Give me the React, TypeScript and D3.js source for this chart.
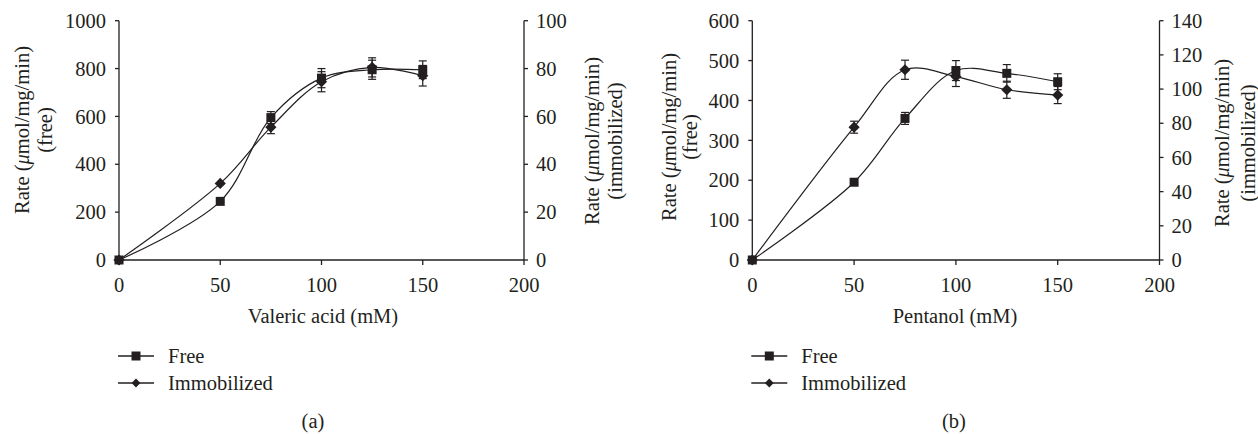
import React from 'react';
import * as d3 from 'd3';

// concentrations (mM)
const conc = [0, 50, 75, 100, 125, 150];
const xTicks = [0, 50, 100, 150, 200];

// panel (a) valeric acid
const freeA = [0, 245, 595, 760, 795, 795];
const freeErrA = [0, 0, 25, 40, 40, 37];
const immA = [0, 32, 55.5, 74.5, 80.5, 77];
const immErrA = [0, 0, 2.7, 4.2, 4, 4.3];
const leftTicksA = [0, 200, 400, 600, 800, 1000];
const rightTicksA = [0, 20, 40, 60, 80, 100];

// panel (b) pentanol
const freeB = [0, 195, 355, 475, 468, 447];
const freeErrB = [0, 0, 15, 25, 22, 20];
const immB = [0, 77.7, 111.3, 107.3, 99.6, 96.5];
const immErrB = [0, 3.5, 5.6, 5.8, 5, 5];
const leftTicksB = [0, 100, 200, 300, 400, 500, 600];
const rightTicksB = [0, 20, 40, 60, 80, 100, 120, 140];

const INK = '#231f20';
const FONT = '"Liberation Serif", "DejaVu Serif", serif';
const FS = 20.5;

interface PanelProps {
  x0: number;
  x1: number;
  xTitle: string;
  xTitleX: number;
  caption: string;
  captionX: number;
  free: number[];
  freeErr: number[];
  imm: number[];
  immErr: number[];
  leftTicks: number[];
  rightTicks: number[];
  leftTitleX: number;
  leftTitleY: number;
  leftGap: number;
  rightTitleX: number;
  rightTitleY: number;
  rightGap: number;
}

const Panel: React.FC<PanelProps> = (p) => {
  const yTop = 20.7;
  const yBot = 260;
  const x = d3.scaleLinear().domain([0, 200]).range([p.x0, p.x1]);
  const yL = d3.scaleLinear().domain([0, d3.max(p.leftTicks)!]).range([yBot, yTop]);
  const yR = d3.scaleLinear().domain([0, d3.max(p.rightTicks)!]).range([yBot, yTop]);

  const line = (ys: number[], y: d3.ScaleLinear<number, number>) =>
    d3
      .line<number>()
      .x((_, i) => x(conc[i]))
      .y((d) => y(d))
      .curve(d3.curveCatmullRom.alpha(0.5))(ys) || '';

  const errBars = (ys: number[], es: number[], y: d3.ScaleLinear<number, number>) =>
    ys.map((v, i) =>
      es[i] > 0 ? (
        <g key={i} stroke={INK} strokeWidth={1.2}>
          <line x1={x(conc[i])} x2={x(conc[i])} y1={y(v - es[i])} y2={y(v + es[i])} />
          <line x1={x(conc[i]) - 4} x2={x(conc[i]) + 4} y1={y(v - es[i])} y2={y(v - es[i])} />
          <line x1={x(conc[i]) - 4} x2={x(conc[i]) + 4} y1={y(v + es[i])} y2={y(v + es[i])} />
        </g>
      ) : null
    );

  const diamond = d3.symbol(d3.symbolDiamond2, 80)()!;
  const legendX = p.x0 - 1;
  return (
    <g fontFamily={FONT} fill={INK}>
      {/* axes */}
      <g stroke={INK} strokeWidth={1.3}>
        <line x1={p.x0} x2={p.x0} y1={yTop} y2={yBot} />
        <line x1={p.x1} x2={p.x1} y1={yTop} y2={yBot} />
        <line x1={p.x0} x2={p.x1} y1={yBot} y2={yBot} />
        {p.leftTicks.map((t) => (
          <line key={'l' + t} x1={p.x0 - 4} x2={p.x0} y1={yL(t)} y2={yL(t)} />
        ))}
        {p.rightTicks.map((t) => (
          <line key={'r' + t} x1={p.x1} x2={p.x1 + 4} y1={yR(t)} y2={yR(t)} />
        ))}
        {xTicks.map((t) => (
          <line key={'x' + t} x1={x(t)} x2={x(t)} y1={yBot} y2={yBot + 5} />
        ))}
      </g>
      <g fontSize={FS}>
        {p.leftTicks.map((t) => (
          <text key={'lt' + t} x={p.x0 - 13} y={yL(t)} dy="0.35em" textAnchor="end">
            {t}
          </text>
        ))}
        {p.rightTicks.map((t) => (
          <text key={'rt' + t} x={p.x1 + 12} y={yR(t)} dy="0.35em">
            {t}
          </text>
        ))}
        {xTicks.map((t) => (
          <text key={'xt' + t} x={x(t)} y={292} textAnchor="middle">
            {t}
          </text>
        ))}
        <text x={p.xTitleX} y={323} textAnchor="middle">
          {p.xTitle}
        </text>
        <text transform={`translate(${p.leftTitleX},${p.leftTitleY}) rotate(-90)`} textAnchor="middle">
          <tspan x={0} dy="0.35em">
            Rate (<tspan fontStyle="italic">μ</tspan>mol/mg/min)
          </tspan>
          <tspan x={0} dy={p.leftGap}>(free)</tspan>
        </text>
        <text transform={`translate(${p.rightTitleX},${p.rightTitleY}) rotate(-90)`} textAnchor="middle">
          <tspan x={0} dy="0.35em">
            Rate (<tspan fontStyle="italic">μ</tspan>mol/mg/min)
          </tspan>
          <tspan x={0} dy={p.rightGap}>(immobilized)</tspan>
        </text>
        <text x={p.captionX} y={428} textAnchor="middle">
          {p.caption}
        </text>
      </g>

      {/* series lines */}
      <path d={line(p.free, yL)} fill="none" stroke={INK} strokeWidth={1.2} />
      <path d={line(p.imm, yR)} fill="none" stroke={INK} strokeWidth={1.2} />

      {errBars(p.free, p.freeErr, yL)}
      {errBars(p.imm, p.immErr, yR)}

      {/* markers */}
      {p.imm.map((v, i) => (
        <path key={'d' + i} d={diamond} transform={`translate(${x(conc[i])},${yR(v)})`} fill={INK} />
      ))}
      {p.free.map((v, i) => (
        <rect key={'s' + i} x={x(conc[i]) - 4.5} y={yL(v) - 4.5} width={9} height={9} fill={INK} />
      ))}

      {/* legend */}
      <g stroke={INK} strokeWidth={1.3}>
        <line x1={legendX} x2={legendX + 36} y1={356} y2={356} />
        <line x1={legendX} x2={legendX + 36} y1={383} y2={383} />
      </g>
      <rect x={legendX + 13.5} y={351.5} width={9} height={9} fill={INK} />
      <path d={d3.symbol(d3.symbolDiamond2, 50)()!} transform={`translate(${legendX + 18},383)`} fill={INK} />
      <g fontSize={FS}>
        <text x={legendX + 50} y={356} dy="0.35em">Free</text>
        <text x={legendX + 50} y={383} dy="0.35em">Immobilized</text>
      </g>
    </g>
  );
};

export default function App() {
  return (
    <svg
      width={1258}
      height={434}
      style={{ position: 'absolute', left: 0, top: 0, background: '#fff' }}
    >
      <Panel
        x0={119}
        x1={524}
        xTitle="Valeric acid (mM)"
        xTitleX={323}
        caption="(a)"
        captionX={313}
        free={freeA}
        freeErr={freeErrA}
        imm={immA}
        immErr={immErrA}
        leftTicks={leftTicksA}
        rightTicks={rightTicksA}
        leftTitleX={22}
        leftTitleY={130}
        leftGap={23}
        rightTitleX={592}
        rightTitleY={141}
        rightGap={23}
      />
      <Panel
        x0={752.3}
        x1={1159.5}
        xTitle="Pentanol (mM)"
        xTitleX={955}
        caption="(b)"
        captionX={954}
        free={freeB}
        freeErr={freeErrB}
        imm={immB}
        immErr={immErrB}
        leftTicks={leftTicksB}
        rightTicks={rightTicksB}
        leftTitleX={669}
        leftTitleY={137}
        leftGap={21}
        rightTitleX={1222}
        rightTitleY={143}
        rightGap={26}
      />
    </svg>
  );
}
